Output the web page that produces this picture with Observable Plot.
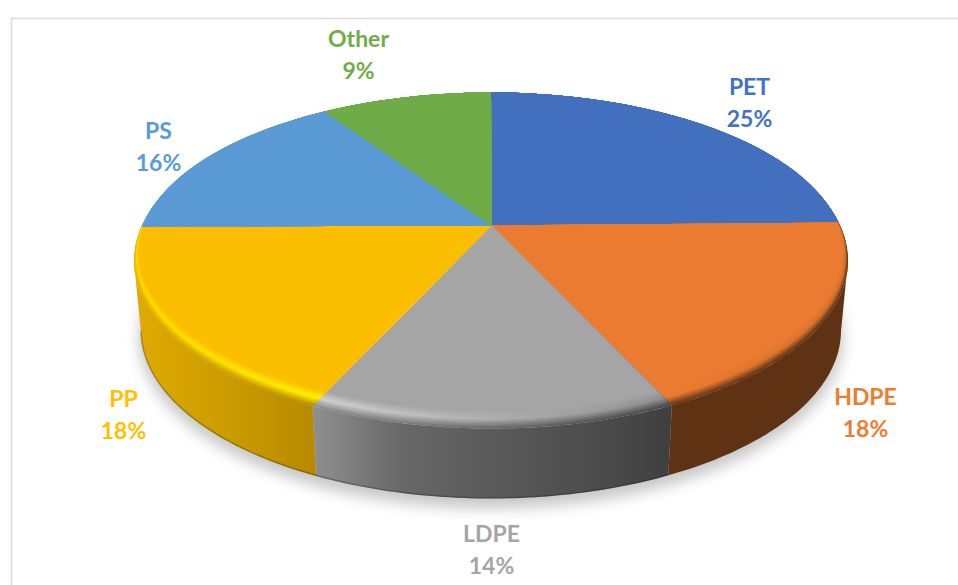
<!DOCTYPE html>
<html>
<head>
<meta charset="utf-8">
<script src="https://cdn.jsdelivr.net/npm/d3@7"></script>
<script src="https://cdn.jsdelivr.net/npm/@observablehq/plot@0.6"></script>
<style>
html,body{margin:0;padding:0;background:#fff}
svg{display:block}
</style>
</head>
<body>
<div id="chart"></div>
<script>
// Chart values (slice sizes estimated from the drawn angles)
const categories = ["PET", "HDPE", "LDPE", "PP", "PS", "Other"];
const shares = [24.7, 18.4, 13.7, 18.1, 15.7, 9.4];
const sliceColors = ["#4270be", "#ea7b30", "#a5a5a5", "#fbbe00", "#5b9bd5", "#6fab47"];
const labelColors = ["#4472c4", "#ed7d31", "#a5a5a5", "#ffc000", "#5b9bd5", "#70ad47"];
const labelX = [749, 865, 491, 123, 158, 358];
const labelY = [100, 410, 547, 412, 144, 52];

// Rim shading: [highlight left, edge left, highlight right, edge right]
const rims = [
  ["#4270be", "#3d5685", "#4270be", "#33466b"],
  ["#ea7b30", "#6a3716", "#d0702c", "#5f3113"],
  ["#d2d2d2", "#8c8c8c", "#8c8c8c", "#454545"],
  ["#ffd800", "#e2ac00", "#fff000", "#bb8c00"],
  ["#5ba3e0", "#62b2f8", "#5b9bd5", "#5b9bd5"],
  ["#6fab47", "#6fab47", "#6fab47", "#6fab47"]
];
// Side wall shading, left to right
const wallStops = [
  null,
  ["#5f3213", "#5f3213"],
  ["#8f8f8f", "#686868", "#5a5a5a", "#4e4e4e", "#3f3f3f"],
  ["#e0aa00", "#cc9d00", "#b88a00"],
  null,
  null
];

// Pie geometry
const hub = {x: 491, y: 225};
const outer = {cx: 490.5, cy: 260, rx: 357, ry: 168};
const inner = {cx: 490.5, cy: 251, rx: 352, ry: 159};
const floor = {cx: 490.5, cy: 330, rx: 350, ry: 168};
const k = (outer.cy - hub.y) / outer.ry;
const s = Math.sqrt(1 - k * k);

const frac = (t) => ({
  cx: inner.cx + (outer.cx - inner.cx) * t,
  cy: inner.cy + (outer.cy - inner.cy) * t,
  rx: inner.rx + (outer.rx - inner.rx) * t,
  ry: inner.ry + (outer.ry - inner.ry) * t
});
const unit = (a) => {
  const u = Math.sin(a), w = -Math.cos(a), D = 1 - k * w;
  return [s * u / D, (w - k) / D];
};
const place = ([X, Y], e) => ({x: e.cx + e.rx * X, y: e.cy + e.ry * Y});

const total = d3.sum(shares);
const cum = d3.cumsum(shares);
const spans = shares.map((v, i) => [
  (cum[i] - v) / total * 2 * Math.PI,
  cum[i] / total * 2 * Math.PI
]);
const arcUnits = ([a0, a1]) => {
  const n = Math.ceil((a1 - a0) * 60);
  return d3.range(n + 1).map((j) => unit(a0 + (a1 - a0) * j / n));
};

// Where the straight slice edge from the hub meets a nested rim ellipse
function ellipseAngleOnRay(end, e) {
  const dx = (end.x - hub.x) / e.rx, dy = (end.y - hub.y) / e.ry;
  const ox = (hub.x - e.cx) / e.rx, oy = (hub.y - e.cy) / e.ry;
  const A = dx * dx + dy * dy, B = 2 * (ox * dx + oy * dy), C = ox * ox + oy * oy - 1;
  const f = (-B + Math.sqrt(B * B - 4 * A * C)) / (2 * A);
  return Math.atan2(oy + f * dy, ox + f * dx);
}
function wedgeRows(span, e) {
  const p0 = place(unit(span[0]), outer), p1 = place(unit(span[1]), outer);
  const a0 = ellipseAngleOnRay(p0, e);
  let a1 = ellipseAngleOnRay(p1, e);
  while (a1 <= a0) a1 += 2 * Math.PI;
  const n = Math.ceil((a1 - a0) * 60);
  const rim = d3.range(n + 1).map((j) => {
    const a = a0 + (a1 - a0) * j / n;
    return {x: e.cx + e.rx * Math.cos(a), y: e.cy + e.ry * Math.sin(a)};
  });
  return [hub, ...rim];
}

// gradients
const defs = d3.create("svg:defs");
const blur = defs.append("filter").attr("id", "soft")
  .attr("x", "-10%").attr("y", "-10%").attr("width", "120%").attr("height", "120%");
blur.append("feGaussianBlur").attr("stdDeviation", 7);
function addGradient(id, x1, x2, stops) {
  const g = defs.append("linearGradient").attr("id", id)
    .attr("gradientUnits", "userSpaceOnUse")
    .attr("x1", x1).attr("x2", x2).attr("y1", 0).attr("y2", 0);
  stops.forEach((c, i) => g.append("stop")
    .attr("offset", i / (stops.length - 1)).attr("stop-color", c));
  return `url(#${id})`;
}

const marks = [];
marks.push(() => defs.node());

// chart frame
marks.push(Plot.ruleY([18], {x1: 11, x2: 958, stroke: "#dcdcdc", strokeWidth: 1.5}));
marks.push(Plot.ruleX([11], {y1: 18, y2: 585, stroke: "#dcdcdc", strokeWidth: 1.5}));

// soft shadow under the pie
const shadowEllipse = {cx: 490.5, cy: 338, rx: 352, ry: 170};
marks.push(Plot.line(
  arcUnits([0, 2 * Math.PI]).map((p) => place(p, shadowEllipse)),
  {x: "x", y: "y", fill: "#c8c8c8", stroke: "none",
   render(index, sc, vals, dim, ctx, next) {
     const g = next(index, sc, vals, dim, ctx);
     g.setAttribute("filter", "url(#soft)");
     return g;
   }}
));

// side walls
spans.forEach((span, i) => {
  if (!wallStops[i]) return;
  const pts = arcUnits(span).filter((p) => p[1] >= 0);
  const top = pts.map((p) => place(p, outer));
  const bottom = pts.map((p) => place(p, floor));
  const x = d3.extent(top, (d) => d.x);
  const fill = addGradient(`wall${i}`, x[0], x[1], wallStops[i]);
  marks.push(Plot.line([...top, ...bottom.slice().reverse()], {x: "x", y: "y", fill, stroke: "none"}));
  if (i >= 2) {
    marks.push(Plot.line(bottom, {x: "x", y: "y", dy: -0.7, stroke: "#2a2a2a", strokeOpacity: 0.35, strokeWidth: 1.5}));
  }
});

// top faces: rim bands from the outside in, then the flat face
const steps = 14;
const ramp = (flat, hi, edge, t) =>
  t < 0.5 ? d3.interpolateRgb(flat, hi)(t / 0.5) : d3.interpolateRgb(hi, edge)((t - 0.5) / 0.5);

spans.forEach((span, i) => {
  const flat = sliceColors[i];
  const [hl, el, hr, er] = rims[i];
  const xs = d3.extent(arcUnits(span), (p) => place(p, outer).x);
  for (let j = steps; j >= 0; j--) {
    const t = j / steps;
    const fill = j === 0 ? flat
      : addGradient(`rim${i}_${j}`, xs[0], xs[1], [ramp(flat, hl, el, t), ramp(flat, hr, er, t)]);
    marks.push(Plot.line(wedgeRows(span, frac(t)), {x: "x", y: "y", fill, stroke: "none"}));
  }
});

// labels
const labelRows = categories.map((name, i) => ({
  text: `${name}\n${Math.round(shares[i])}%`,
  x: labelX[i], y: labelY[i], color: labelColors[i]
}));
labelRows.forEach((d) => {
  marks.push(Plot.text([d], {
    x: "x", y: "y", text: "text", fill: d.color,
    fontSize: 23, fontWeight: 700, fontFamily: "Lato",
    lineHeight: 1.39, textAnchor: "middle"
  }));
});

const chart = Plot.plot({
  width: 958, height: 585,
  marginTop: 0, marginRight: 0, marginBottom: 0, marginLeft: 0,
  x: {domain: [0, 958], axis: null},
  y: {domain: [0, 585], reverse: true, axis: null},
  style: {background: "#fff"},
  marks
});
document.getElementById("chart").append(chart);
</script>
</body>
</html>
